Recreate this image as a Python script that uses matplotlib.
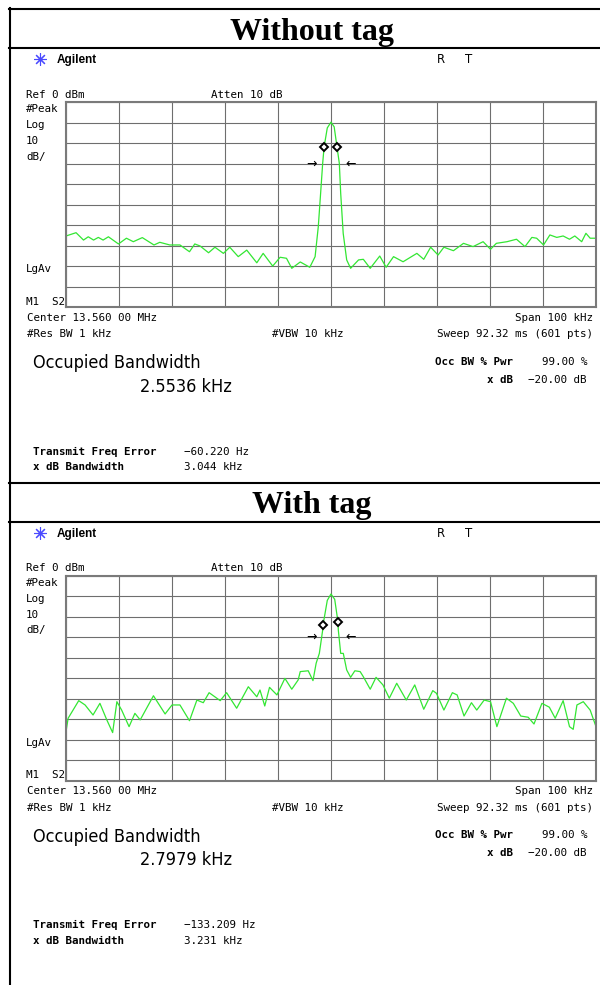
import matplotlib
matplotlib.use("Agg")
import matplotlib.pyplot as plt
import numpy as np
from matplotlib.lines import Line2D

# trace without tag: frequency offset from 13.560 MHz (kHz), level (dBm)
f_notag = [-50.0, -48.1, -46.7, -45.8, -44.8, -43.9, -43.0, -42.0, -40.1, -38.6,
           -37.3, -35.6, -33.4, -32.3, -30.4, -28.5, -26.7, -25.7, -24.7, -23.1,
           -21.9, -20.3, -19.1, -17.5, -15.9, -14.0, -12.8, -11.0, -9.6, -8.4,
           -7.4, -5.8, -4.0, -3.0, -2.4, -1.96, -1.57, -1.3, -0.7, 0.0,
           0.6, 1.13, 1.57, 1.83, 2.3, 2.96, 3.7, 5.2, 6.1, 7.4,
           9.2, 10.4, 11.8, 13.6, 16.2, 17.5, 18.8, 20.2, 21.3, 23.1,
           25.0, 26.8, 28.7, 30.1, 31.2, 33.2, 35.0, 36.6, 37.9, 38.8,
           40.1, 41.3, 42.6, 43.8, 45.0, 46.0, 47.3, 48.1, 48.9, 50.0]
db_notag = [-65.3, -63.7, -67.3, -65.7, -67.3, -66.0, -67.3, -65.7, -69.2, -66.4,
            -68.1, -66.1, -69.7, -68.4, -69.7, -69.7, -73.0, -69.2, -70.2, -73.5,
            -70.8, -73.8, -70.8, -75.4, -72.2, -78.4, -73.8, -80.0, -75.7, -76.2,
            -81.1, -78.0, -80.6, -75.4, -60.8, -44.5, -29.8, -21.8, -12.5, -9.7,
            -12.0, -21.8, -29.8, -44.5, -64.0, -77.0, -81.1, -77.0, -76.7, -81.1,
            -75.1, -80.6, -75.4, -77.9, -73.8, -76.7, -70.8, -74.6, -70.8, -72.5,
            -68.9, -70.5, -68.1, -71.8, -68.9, -68.1, -66.9, -70.5, -66.0, -66.4,
            -69.7, -64.8, -66.0, -65.3, -66.9, -65.3, -68.1, -64.0, -66.4, -66.4]

# trace with tag
f_tag = [-49.9, -49.6, -47.6, -46.4, -44.9, -43.6, -42.3, -41.2, -40.4, -39.5,
         -38.1, -37.0, -36.0, -33.5, -31.3, -30.0, -28.5, -26.7, -25.3, -24.1,
         -23.0, -20.9, -19.7, -17.8, -15.6, -14.0, -13.4, -12.5, -11.6, -10.2,
         -8.7, -7.4, -6.2, -5.8, -4.3, -3.4, -2.8, -2.2, -1.57, -1.5,
         -0.7, 0.0, 0.7, 1.32, 1.38, 1.83, 2.32, 2.96, 3.7, 4.5,
         5.5, 6.1, 7.4, 8.5, 9.8, 11.0, 12.4, 14.2, 15.8, 17.5,
         19.2, 19.9, 21.3, 22.9, 23.8, 25.1, 26.5, 27.5, 28.9, 30.1,
         31.3, 33.1, 34.4, 35.8, 37.2, 38.3, 39.8, 41.2, 42.3, 43.8,
         45.0, 45.7, 46.4, 47.6, 48.9, 50.0]
db_tag = [-74.5, -69.6, -61.0, -63.1, -68.0, -62.3, -70.4, -76.6, -61.5, -65.6,
          -73.7, -67.2, -70.4, -58.6, -67.5, -63.1, -63.1, -70.8, -60.7, -62.0,
          -57.1, -61.0, -57.1, -64.7, -54.2, -59.1, -55.8, -63.6, -54.5, -58.2,
          -50.1, -55.4, -50.9, -46.8, -46.4, -51.2, -42.7, -37.9, -26.5, -24.0,
          -12.0, -8.9, -11.5, -22.6, -26.5, -37.9, -37.9, -46.0, -49.6, -46.4,
          -46.8, -49.3, -55.4, -49.6, -53.3, -59.8, -52.5, -60.7, -53.3, -65.2,
          -56.1, -57.4, -65.6, -57.1, -58.2, -68.5, -62.0, -65.6, -60.7, -61.5,
          -73.7, -59.8, -62.3, -68.5, -69.1, -72.4, -62.3, -64.2, -69.6, -61.0,
          -73.7, -75.0, -63.1, -61.5, -65.6, -73.7]

# occupied bandwidth markers (kHz, dB) and the -30 dB arrows
mk_notag_f = [-1.32, 1.13]
mk_notag_db = [-21.8, -21.8]
mk_tag_f = [-1.5, 1.32]
mk_tag_db = [-24.0, -22.6]
arrow_f = [-3.6, 3.8]
arrow_db = -30

titles = ["Without tag", "With tag"]
occ_bw = ["2.5536 kHz", "2.7979 kHz"]
freq_err = ["\u221260.220 Hz", "\u2212133.209 Hz"]
xdb_bw = ["3.044 kHz", "3.231 kHz"]

W, H = 600, 985
fig = plt.figure(figsize=(W / 100, H / 100), dpi=100)
fig.patch.set_facecolor("white")

MONO = "DejaVu Sans Mono"
GREEN = "#33e633"


def fx(x):
    return x / W


def fy(y):
    return 1 - y / H


def txt(x, y, s, **kw):
    kw.setdefault("family", MONO)
    kw.setdefault("size", 7.8)
    kw.setdefault("va", "baseline")
    fig.text(fx(x), fy(y), s, **kw)


def hline(y, x0=9, x1=600, lw=1.5):
    fig.add_artist(Line2D([fx(x0), fx(x1)], [fy(y), fy(y)], color="black", lw=lw,
                          transform=fig.transFigure))


def draw_panel(off, title, freq, level, mk_f, mk_db, bw, err, xbw):
    hline(9 + off if off == 0 else 483)
    hline(48 + off)
    txt(312, 40 + off, title, family="Liberation Serif", weight="bold", size=23, ha="center")

    # Agilent logo
    fig.add_artist(Line2D([fx(40)], [fy(59 + off)], marker=(8, 2, 0), ms=9, mew=0.8,
                          color="#4a4aff", transform=fig.transFigure))
    txt(57, 63.3 + off, "Agilent", family="Liberation Sans", weight="bold", size=8.5)
    txt(437, 63.3 + off, "R", family="DejaVu Sans", size=8.5)
    txt(465, 63.3 + off, "T", family="DejaVu Sans", size=8.5)

    txt(26, 97.5 + off, "Ref 0 dBm")
    txt(211, 97.5 + off, "Atten 10 dB")
    txt(26, 112 + off, "#Peak")
    txt(26, 128 + off, "Log")
    txt(26, 144 + off, "10")
    txt(26, 160 + off, "dB/")
    txt(26, 272 + off, "LgAv")
    txt(26, 305 + off, "M1  S2")

    ax = fig.add_axes([fx(66), fy(307 + off), 530 / W, 204.7 / H])
    ax.set_xlim(-50, 50)
    ax.set_ylim(-100, 0)
    ax.set_xticks(np.arange(-50, 51, 10))
    ax.set_yticks(np.arange(-100, 1, 10))
    ax.tick_params(length=0, labelbottom=False, labelleft=False)
    ax.grid(True, color="#6e6e6e", lw=0.8)
    for sp in ax.spines.values():
        sp.set_color("#7a7a7a")
        sp.set_linewidth(1.5)
    ax.plot(freq, level, color=GREEN, lw=0.9)
    ax.plot(mk_f, mk_db, "D", ms=4.2, mfc="white", mec="black", mew=1.4, clip_on=False)
    ax.text(arrow_f[0], arrow_db, "\u2192", ha="center", va="center",
            family="DejaVu Sans", size=9)
    ax.text(arrow_f[1], arrow_db, "\u2190", ha="center", va="center",
            family="DejaVu Sans", size=9)

    txt(27, 320.7 + off, "Center 13.560 00 MHz")
    txt(593, 320.7 + off, "Span 100 kHz", ha="right")
    txt(27, 337.3 + off, "#Res BW 1 kHz")
    txt(272, 337.3 + off, "#VBW 10 kHz")
    txt(593, 337.3 + off, "Sweep 92.32 ms (601 pts)", ha="right")

    txt(33, 368.3 + off, "Occupied Bandwidth", family="DejaVu Sans", size=13,
        fontstretch="condensed")
    txt(140, 391.7 + off, bw, family="DejaVu Sans", size=13, fontstretch="condensed")

    txt(513, 365 + off, "Occ BW % Pwr", ha="right", weight="bold")
    txt(587, 365 + off, "99.00 %", ha="right")
    txt(513, 382.7 + off, "x dB", ha="right", weight="bold")
    txt(587, 382.7 + off, "\u221220.00 dB", ha="right")

    txt(33, 455 + off, "Transmit Freq Error", weight="bold")
    txt(184, 455 + off, err)
    txt(33, 470 + off, "x dB Bandwidth", weight="bold")
    txt(184, 470 + off, xbw)


# left border of the whole figure
fig.add_artist(Line2D([fx(10), fx(10)], [fy(8), fy(985)], color="black", lw=1.5,
                      transform=fig.transFigure))

draw_panel(0, titles[0], f_notag, db_notag, mk_notag_f, mk_notag_db,
           occ_bw[0], freq_err[0], xdb_bw[0])
draw_panel(473.5, titles[1], f_tag, db_tag, mk_tag_f, mk_tag_db,
           occ_bw[1], freq_err[1], xdb_bw[1])

fig.savefig("out.png", dpi=100, facecolor="white")
